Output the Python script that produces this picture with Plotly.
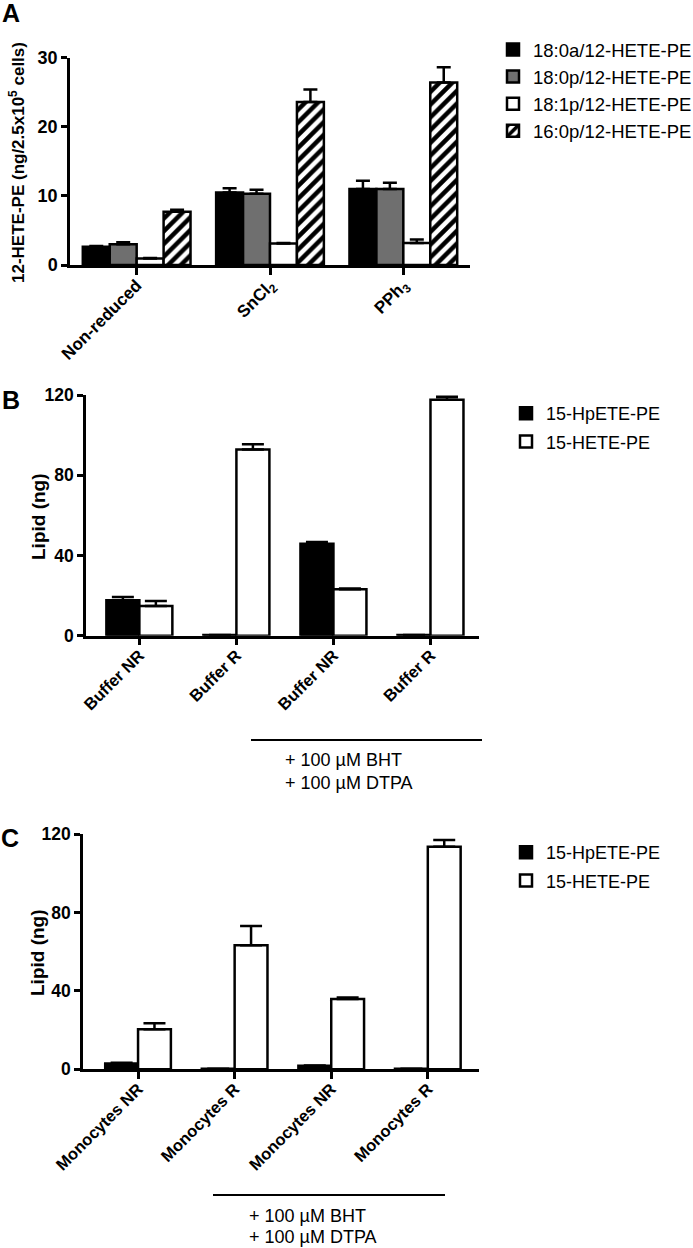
import plotly.graph_objects as go

W, H = 693, 1248
FONT = "Liberation Sans, Arial, sans-serif"

# ---------------- Panel A data ----------------
a_categories = ["Non-reduced", "SnCl<sub>2</sub>", "PPh<sub>3</sub>"]
a_series = ["18:0a/12-HETE-PE", "18:0p/12-HETE-PE", "18:1p/12-HETE-PE", "16:0p/12-HETE-PE"]
a_18_0a = [2.65, 10.5, 11.0]
a_18_0a_err = [0.1, 0.6, 1.2]
a_18_0p = [3.0, 10.3, 11.0]
a_18_0p_err = [0.3, 0.6, 0.9]
a_18_1p = [0.95, 3.1, 3.2]
a_18_1p_err = [0.05, 0.1, 0.5]
a_16_0p = [7.7, 23.6, 26.4]
a_16_0p_err = [0.3, 1.8, 2.2]
a_yticks = [0, 10, 20, 30]

# ---------------- Panel B data ----------------
b_categories = ["Buffer NR", "Buffer R", "Buffer NR", "Buffer R"]
b_series = ["15-HpETE-PE", "15-HETE-PE"]
b_hpete = [17.7, 0.3, 45.8, 0.3]
b_hpete_err = [1.6, 0.0, 0.9, 0.0]
b_hete = [14.8, 92.8, 23.2, 117.6]
b_hete_err = [2.5, 2.7, 0.3, 1.5]

# ---------------- Panel C data ----------------
c_categories = ["Monocytes NR", "Monocytes R", "Monocytes NR", "Monocytes R"]
c_series = ["15-HpETE-PE", "15-HETE-PE"]
c_hpete = [2.9, 0.3, 1.8, 0.3]
c_hpete_err = [0.4, 0.0, 0.2, 0.0]
c_hete = [20.4, 63.3, 35.9, 113.7]
c_hete_err = [3.1, 9.9, 0.7, 3.4]
bc_yticks = [0, 40, 80, 120]

treatment_lines = ["+ 100 µM BHT", "+ 100 µM DTPA"]


def px_x(p):
    return p / W


def px_y(p):
    return 1 - p / H


LW = 2.5
fig = go.Figure()


def add_bar(xaxis, yaxis, xs, ys, errs, name, color, offset, width, legend,
            capw, group, pattern=None):
    marker = dict(color=color, line=dict(color="black", width=LW))
    if pattern:
        marker["pattern"] = pattern
    fig.add_trace(go.Bar(
        x=xs, y=ys, name=name, xaxis=xaxis, yaxis=yaxis,
        offset=offset, width=width, marker=marker, legend=legend, legendgroup=group,
        error_y=dict(type="data", array=errs, arrayminus=[0] * len(errs),
                     symmetric=False, color="black", thickness=LW, width=capw),
    ))


# Panel A
xa = list(range(len(a_categories)))
wa = 0.202
a_data = [(a_18_0a, a_18_0a_err, "#000000", None),
          (a_18_0p, a_18_0p_err, "#6f6f6f", None),
          (a_18_1p, a_18_1p_err, "#ffffff", None),
          (a_16_0p, a_16_0p_err, "#ffffff",
           dict(shape="/", fgcolor="black", bgcolor="white", size=9, solidity=0.5))]
for i, (vals, errs, col, pat) in enumerate(a_data):
    add_bar("x", "y", xa, vals, errs, a_series[i], col, -2 * wa + i * wa, wa,
            "legend", 7, "a%d" % i, pat)

# Panel B
xb = list(range(len(b_categories)))
wb = 0.34
add_bar("x2", "y2", xb, b_hpete, b_hpete_err, b_series[0], "#000000", -wb, wb, "legend2", 11, "b0")
add_bar("x2", "y2", xb, b_hete, b_hete_err, b_series[1], "#ffffff", 0, wb, "legend2", 11, "b1")

# Panel C
xc = list(range(len(c_categories)))
add_bar("x3", "y3", xc, c_hpete, c_hpete_err, c_series[0], "#000000", -wb, wb, "legend3", 11, "c0")
add_bar("x3", "y3", xc, c_hete, c_hete_err, c_series[1], "#ffffff", 0, wb, "legend3", 11, "c1")


def bfont(size):
    return dict(family=FONT, size=size, color="black", weight="bold")


common_x = dict(showline=True, linewidth=LW, linecolor="black", ticks="outside",
                ticklen=7, tickwidth=LW, tickcolor="black", tickangle=-45,
                ticklabelstandoff=-6,
                showgrid=False, zeroline=False, fixedrange=True, automargin=False)
common_y = dict(showline=True, linewidth=LW, linecolor="black", ticks="outside",
                ticklen=6, tickwidth=LW, tickcolor="black",
                showgrid=False, zeroline=False, fixedrange=True, automargin=False)

fig.update_layout(
    template="none",
    width=W, height=H, margin=dict(l=0, r=0, t=0, b=0, pad=0, autoexpand=False),
    paper_bgcolor="white", plot_bgcolor="white",
    barmode="overlay", showlegend=True,
    font=dict(family=FONT, color="black"),
    xaxis=dict(common_x, domain=[px_x(70), px_x(470)], anchor="y", range=[-0.5, 2.5],
               tickvals=xa, ticktext=a_categories, tickfont=bfont(17)),
    yaxis=dict(common_y, domain=[px_y(265), px_y(57.7)], anchor="x", range=[0, 30],
               tickvals=a_yticks, tickfont=bfont(18)),
    xaxis2=dict(common_x, domain=[px_x(86), px_x(479)], anchor="y2", range=[-0.55, 3.5],
                tickvals=xb, ticktext=b_categories, tickfont=bfont(16.5)),
    yaxis2=dict(common_y, domain=[px_y(635.7), px_y(395)], anchor="x2", range=[0, 120],
                tickvals=bc_yticks, tickfont=bfont(17.5)),
    xaxis3=dict(common_x, domain=[px_x(83), px_x(479)], anchor="y3", range=[-0.57, 3.53],
                tickvals=xc, ticktext=c_categories, tickfont=bfont(16.5)),
    yaxis3=dict(common_y, domain=[px_y(1069.3), px_y(834.3)], anchor="x3", range=[0, 120],
                tickvals=bc_yticks, tickfont=bfont(17.5)),
    legend=dict(x=px_x(493), y=px_y(31), xanchor="left", yanchor="top",
                traceorder="normal", font=dict(family=FONT, size=18.5, color="black"),
                bgcolor="rgba(0,0,0,0)"),
    legend2=dict(x=px_x(506), y=px_y(395), xanchor="left", yanchor="top",
                 traceorder="grouped", tracegroupgap=2,
                 font=dict(family=FONT, size=18, color="black"), bgcolor="rgba(0,0,0,0)"),
    legend3=dict(x=px_x(506), y=px_y(834), xanchor="left", yanchor="top",
                 traceorder="grouped", tracegroupgap=2,
                 font=dict(family=FONT, size=18, color="black"), bgcolor="rgba(0,0,0,0)"),
)

annotations = []
# panel letters
for letter, (lx, ly) in zip(["A", "B", "C"], [(11, 13), (11, 400), (10, 838)]):
    annotations.append(dict(text=letter, x=px_x(lx), y=px_y(ly), xref="paper", yref="paper",
                            xanchor="center", yanchor="middle", showarrow=False,
                            font=bfont(25)))

# y-axis titles
for txt, (tx, ty), size in [("12-HETE-PE (ng/2.5x10<sup>5</sup> cells)", (17, 163), 17),
                            ("Lipid (ng)", (38, 517), 19),
                            ("Lipid (ng)", (38, 953), 19)]:
    annotations.append(dict(text=txt, x=px_x(tx), y=px_y(ty), xref="paper", yref="paper",
                            xanchor="center", yanchor="middle", textangle=-90,
                            showarrow=False, font=bfont(size)))

shapes = []
for (x0, x1, yl, tx, ty1, ty2) in [(251, 482, 740, 283, 760, 783),
                                    (213, 445, 1195, 247, 1216, 1237)]:
    shapes.append(dict(type="line", xref="paper", yref="paper",
                       x0=px_x(x0), x1=px_x(x1), y0=px_y(yl), y1=px_y(yl),
                       line=dict(color="black", width=2)))
    for txt, ty in zip(treatment_lines, [ty1, ty2]):
        annotations.append(dict(text=txt, x=px_x(tx), y=px_y(ty), xref="paper", yref="paper",
                                xanchor="left", yanchor="middle", showarrow=False,
                                font=dict(family=FONT, size=18, color="black")))

fig.update_layout(annotations=annotations, shapes=shapes)

fig.write_html("out.html", config={"displayModeBar": False},
               post_script="document.body.style.margin='0px';")
